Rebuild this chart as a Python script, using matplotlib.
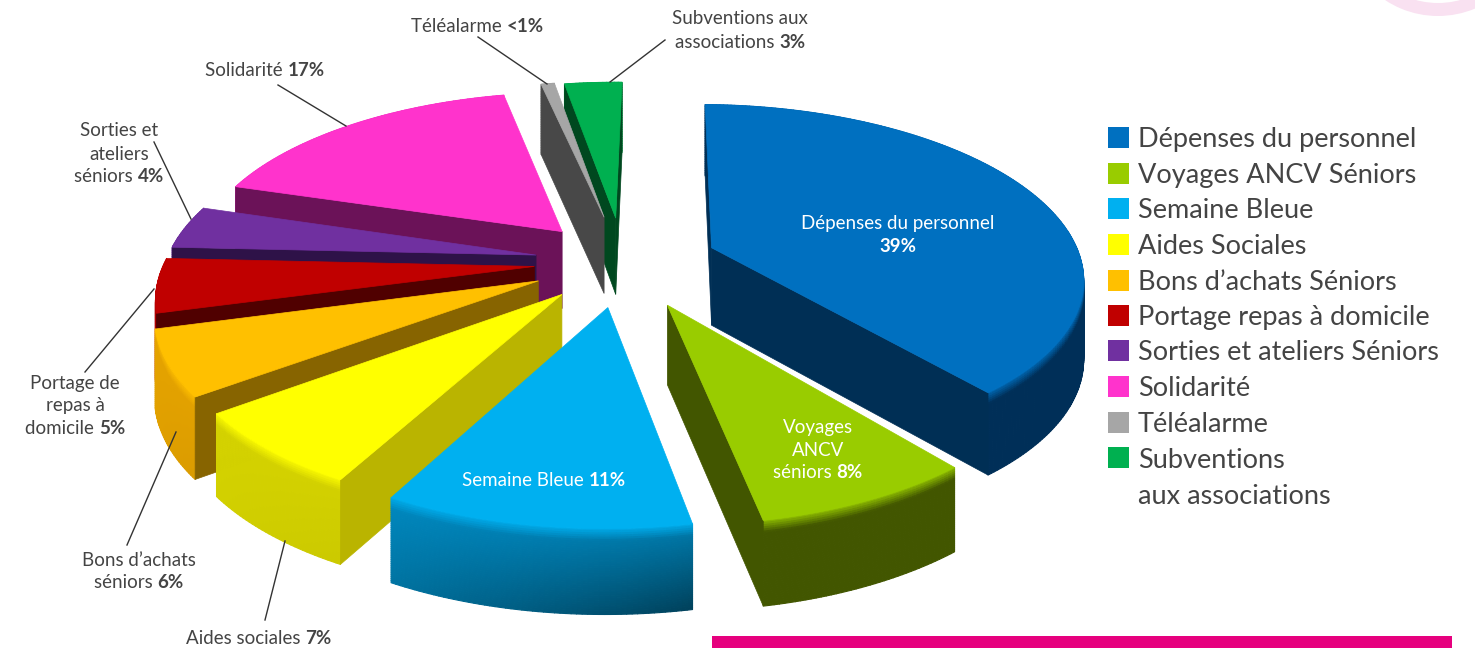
import numpy as np
import matplotlib
matplotlib.use("Agg")
import matplotlib.pyplot as plt
from matplotlib.collections import PolyCollection
from matplotlib.patches import Polygon, Rectangle, Wedge

# donnees
categories = ["Dépenses du personnel", "Voyages ANCV Séniors", "Semaine Bleue", "Aides Sociales",
              "Bons d’achats Séniors", "Portage repas à domicile", "Sorties et ateliers Séniors",
              "Solidarité", "Téléalarme", "Subventions\naux associations"]
values = [39, 8, 11, 7, 6, 5, 4, 17, 0.7, 3]
explode = [0.257, 0.27, 0.26, 0.245, 0.25, 0.24, 0.24, 0.25, 0.28, 0.27]

top_colors = ["#0070C0", "#99CC00", "#00B0F0", "#FFFF00", "#FFC000", "#C00000", "#7030A0", "#FF33CC", "#A6A6A6", "#00B050"]
cut_colors = ["#002F55", "#425600", "#00608A", "#BAB400", "#876400", "#500000", "#2E1248", "#6B1258", "#484848", "#00481F"]
wall_colors = ["#002F58", "#425600", "#0090CA", "#D6D400", "#E6A400", "#B00000", "#5A2585", "#C020A0", "#777777", "#008A3C"]
wall_fade = [0.0, 0.0, 0.55, 0.05, 0.05, 0.0, 0.0, 0.0, 0.0, 0.0]

# ordre de dessin, du fond vers l'avant
draw_order = [0, 9, 8, 7, 6, 5, 4, 3, 1, 2]

# projection en perspective du disque
CX, CY = 623, 262
RX, RY = 370, 170
PERSP = 0.158
DEPTH = 78
START = 1.0


def project(u, v, z):
    # u vers la droite, v vers le spectateur, z de 0 (dessus) a 1 (dessous)
    s = 1 / (1 - PERSP * v)
    x = CX + RX * u * s
    y = CY + RY * v * s + z * DEPTH * (1 + 0.08 * v)
    return x, y


def mix(c1, c2, a):
    return tuple(np.array(matplotlib.colors.to_rgb(c1)) * (1 - a) + np.array(matplotlib.colors.to_rgb(c2)) * a)


def draw_slice(ax, i, t0, t1):
    mid = np.radians((t0 + t1) / 2)
    ou = explode[i] * np.sin(mid)
    ov = -explode[i] * np.cos(mid)
    t = np.radians(np.linspace(t0, t1, max(8, int((t1 - t0) * 1.5))))
    u = ou + np.sin(t)
    v = ov - np.cos(t)

    # paroi exterieure en petits quadrilateres degrades
    polys, cols = [], []
    zs = np.linspace(0, 1, 41)
    for a in range(len(t) - 1):
        pos = a / (len(t) - 1)
        for b in range(len(zs) - 1):
            polys.append([project(u[a], v[a], zs[b]), project(u[a + 1], v[a + 1], zs[b]),
                          project(u[a + 1], v[a + 1], zs[b + 1]), project(u[a], v[a], zs[b + 1])])
            f = 1 - wall_fade[i] * (0.35 + 0.65 * (1 - pos)) * (0.25 + 0.75 * zs[b])
            c = tuple(np.array(matplotlib.colors.to_rgb(wall_colors[i])) * f)
            cols.append(mix(c, top_colors[i], 0.8 * max(0, 1 - zs[b] / 0.13)))
    ax.add_collection(PolyCollection(polys, facecolors=cols, edgecolors=cols, linewidths=0.8))

    # faces de coupe, seulement celles tournees vers le spectateur
    ax0, ay0 = project(ou, ov, 0)
    cx, cy = project(ou + 0.5 * np.sin(mid), ov - 0.5 * np.cos(mid), 0)
    for k in [0, -1]:
        ex, ey = project(u[k], v[k], 0)
        if abs(ex - ax0) < 1:
            continue
        line_y = ay0 + (ey - ay0) * (cx - ax0) / (ex - ax0)
        if cy < line_y:
            quad = [(ax0, ay0), (ex, ey), project(u[k], v[k], 1), project(ou, ov, 1)]
            ax.add_patch(Polygon(quad, closed=True, fc=cut_colors[i], ec=cut_colors[i], lw=0.5))

    # dessus
    xs, ys = project(u, v, 0)
    pts = [(ax0, ay0)] + list(zip(xs, ys))
    ax.add_patch(Polygon(pts, closed=True, fc=top_colors[i], ec=top_colors[i], lw=0.5))


def rich_text(ax, cx, cy, parts, size, color):
    # une ligne centree avec une partie normale et une partie en gras
    rend = ax.figure.canvas.get_renderer()
    items = []
    total = 0
    for txt, bold in parts:
        t = ax.text(0, cy, txt, fontsize=size, color=color, va="center", ha="left",
                    family="Lato", fontweight="bold" if bold else "normal")
        w = t.get_window_extent(rend).width
        items.append((t, w))
        total += w
    x = cx - total / 2
    for t, w in items:
        t.set_x(x)
        x += w


fig = plt.figure(figsize=(14.75, 6.48), dpi=100)
ax = fig.add_axes([0, 0, 1, 1])
ax.set_xlim(0, 1475)
ax.set_ylim(648, 0)
ax.axis("off")

# decor
ax.add_patch(Wedge((1438, -80), 96, 0, 360, width=13, fc="#F9E1F1", ec="none"))
ax.add_patch(Rectangle((712, 636), 740, 12, fc="#E6007E", ec="none"))

# camembert
total = sum(values)
edges = START + np.cumsum([0] + values) / total * 360
for i in draw_order:
    draw_slice(ax, i, edges[i], edges[i + 1])

# traits de rappel
leaders = [((478, 37), (547, 84)), ((665, 40), (610, 82)), ((278, 85), (346, 126)),
           ((154, 142), (191, 219)), ((85, 372), (154, 289)), ((127, 545), (176, 432)),
           ((265, 620), (285, 541))]
for p0, p1 in leaders:
    ax.plot([p0[0], p1[0]], [p0[1], p1[1]], color="#333333", lw=1)

# etiquettes
dark = "#444444"
outside_labels = [
    (477, 27, [("Téléalarme ", False), ("<1%", True)]),
    (740, 19, [("Subventions aux", False)]),
    (740, 43, [("associations ", False), ("3%", True)]),
    (265, 70, [("Solidarité ", False), ("17%", True)]),
    (119, 131, [("Sorties et", False)]),
    (119, 154, [("ateliers", False)]),
    (119, 176, [("séniors ", False), ("4%", True)]),
    (75, 384, [("Portage de", False)]),
    (75, 406, [("repas à", False)]),
    (75, 428, [("domicile ", False), ("5%", True)]),
    (139, 561, [("Bons d’achats", False)]),
    (139, 583, [("séniors ", False), ("6%", True)]),
    (259, 638, [("Aides sociales ", False), ("7%", True)]),
]
inside_labels = [
    (898, 223, [("Dépenses du personnel", False)]),
    (898, 246, [("39%", True)]),
    (544, 480, [("Semaine Bleue ", False), ("11%", True)]),
    (818, 427, [("Voyages", False)]),
    (818, 450, [("ANCV", False)]),
    (818, 472, [("séniors ", False), ("8%", True)]),
]
for cx, cy, parts in outside_labels:
    rich_text(ax, cx, cy, parts, 13.5, dark)
for cx, cy, parts in inside_labels:
    rich_text(ax, cx, cy, parts, 13.5, "white")

# legende
leg_y = [137, 173, 208, 244, 280, 315, 350, 386, 422, 457]
for i, name in enumerate(categories):
    ax.add_patch(Rectangle((1108, leg_y[i] - 10.5), 21, 21, fc=top_colors[i], ec="none"))
    for j, line in enumerate(name.split("\n")):
        ax.text(1138, leg_y[i] + 3 + j * 36, line, fontsize=19.5, color=dark, family="Lato", va="center")

fig.savefig("out.png", dpi=100)
